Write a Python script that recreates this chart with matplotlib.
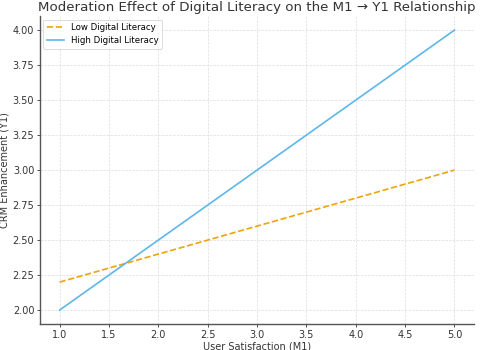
import numpy as np
from matplotlib import pyplot as plt

# data
m1 = [1.0, 5.0]
low_y1 = [2.2, 3.0]
high_y1 = [2.0, 4.0]
title = "Moderation Effect of Digital Literacy on the M1 \u2192 Y1 Relationship"

fig = plt.figure(figsize=(4.8, 3.5), dpi=100)
ax = fig.add_axes([0.083, 0.074, 0.905, 0.88])

ax.plot(m1, low_y1, '--', color='#F0A30A', lw=1.2, label='Low Digital Literacy')
ax.plot(m1, high_y1, '-', color='#5DB7E8', lw=1.2, label='High Digital Literacy')

ax.set_title(title, fontsize=9.6, color='#333333', pad=4)
ax.set_xlabel('User Satisfaction (M1)', fontsize=7, color='#333333', labelpad=1)
ax.set_ylabel('CRM Enhancement (Y1)', fontsize=7, color='#333333', labelpad=2)

ax.set_xticks(np.arange(1.0, 5.01, 0.5))
ax.set_yticks(np.arange(2.0, 4.01, 0.25))
ax.set_yticklabels([f"{v:.2f}" for v in np.arange(2.0, 4.01, 0.25)])
ax.tick_params(labelsize=7, colors='#333333', length=2, width=0.6, pad=2)

ax.grid(True, linestyle='--', linewidth=0.5, color='#dddddd')
for s in ['top', 'right']:
    ax.spines[s].set_visible(False)
for s in ['left', 'bottom']:
    ax.spines[s].set_color('#555555')
    ax.spines[s].set_linewidth(1.0)

leg = ax.legend(loc='upper left', fontsize=6.2, frameon=True, borderaxespad=0.4)
leg.get_frame().set_edgecolor('#cccccc')
leg.get_frame().set_linewidth(0.6)

fig.savefig('out.png', dpi=100)
